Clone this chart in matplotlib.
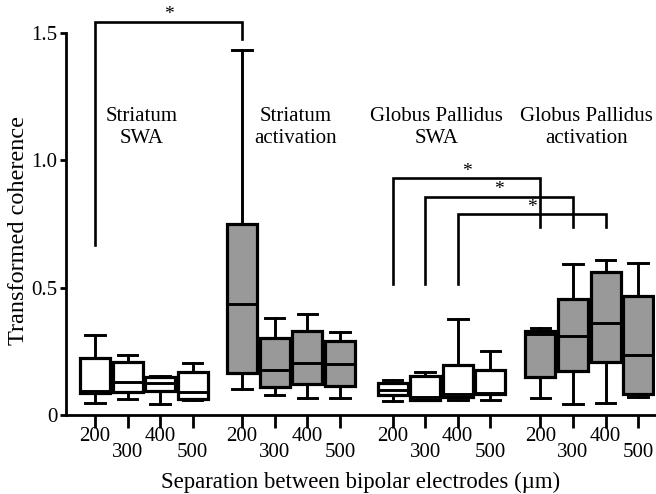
import matplotlib
matplotlib.use("Agg")
import matplotlib.pyplot as plt
import numpy as np

plt.rcParams['font.family'] = ['Liberation Serif', 'DejaVu Serif']

# Data (transformed coherence)
separations = ["200", "300", "400", "500"]
groups = ["Striatum\nSWA", "Striatum\nactivation", "Globus Pallidus\nSWA", "Globus Pallidus\nactivation"]
group_filled = [False, True, False, True]

whislo = [[0.048, 0.063, 0.043, 0.059],
          [0.101, 0.077, 0.068, 0.068],
          [0.056, 0.059, 0.059, 0.059],
          [0.068, 0.043, 0.048, 0.072]]
q1 = [[0.088, 0.092, 0.095, 0.063],
      [0.164, 0.111, 0.120, 0.113],
      [0.079, 0.059, 0.069, 0.082],
      [0.148, 0.174, 0.209, 0.082]]
med = [[0.095, 0.131, 0.127, 0.092],
       [0.436, 0.177, 0.205, 0.201],
       [0.098, 0.069, 0.082, 0.088],
       [0.318, 0.310, 0.362, 0.236]]
q3 = [[0.225, 0.209, 0.148, 0.170],
      [0.749, 0.301, 0.331, 0.292],
      [0.127, 0.153, 0.196, 0.177],
      [0.331, 0.454, 0.563, 0.468]]
whishi = [[0.314, 0.236, 0.153, 0.205],
          [1.433, 0.380, 0.395, 0.325],
          [0.137, 0.168, 0.376, 0.251],
          [0.343, 0.593, 0.609, 0.598]]

# significance brackets: (group_a, sep_a, group_b, sep_b, top, leg_a, leg_b)
brackets = [(0, 0, 1, 0, 1.544, 0.667, 1.475),
            (2, 0, 3, 0, 0.929, 0.513, 0.739),
            (2, 1, 3, 1, 0.857, 0.513, 0.739),
            (2, 2, 3, 2, 0.788, 0.513, 0.739)]

# layout
group_starts = [0.0, 4.52, 9.14, 13.68]
label_offsets = [1.44, 1.65, 1.35, 1.41]

fig = plt.figure(figsize=(6.56, 4.94), dpi=100)
ax = fig.add_axes([0.1006, 0.160, 0.898, 0.773])

stats, positions, faces = [], [], []
for g in range(len(groups)):
    for i in range(len(separations)):
        stats.append(dict(whislo=whislo[g][i], q1=q1[g][i], med=med[g][i],
                          q3=q3[g][i], whishi=whishi[g][i], fliers=[]))
        positions.append(group_starts[g] + i)
        faces.append('#999999' if group_filled[g] else 'white')

bp = ax.bxp(stats, positions=positions, widths=0.92, patch_artist=True,
            showfliers=False,
            boxprops=dict(linewidth=2.3, edgecolor='black'),
            medianprops=dict(color='black', linewidth=2.1),
            whiskerprops=dict(color='black', linewidth=2.1),
            capprops=dict(color='black', linewidth=2.1),
            capwidths=0.6)
for patch, fc in zip(bp['boxes'], faces):
    patch.set_facecolor(fc)

# significance brackets
for ga, sa, gb, sb, top, leg_a, leg_b in brackets:
    xa = group_starts[ga] + sa
    xb = group_starts[gb] + sb
    ax.plot([xa, xa, xb, xb], [leg_a, top, top, leg_b], color='black',
            linewidth=1.9, clip_on=False, solid_joinstyle='miter')
    ax.text((xa + xb) / 2, top + 0.028, '*', ha='center', va='center', fontsize=14)

# group labels
for g, name in enumerate(groups):
    ax.text(group_starts[g] + label_offsets[g], 1.129, name, ha='center', va='center',
            fontsize=15, linespacing=1.2)

ax.set_xlim(-0.89, 17.2)
ax.set_ylim(0, 1.5)

major = [group_starts[g] + i for g in range(4) for i in (0, 2)]
minor = [group_starts[g] + i for g in range(4) for i in (1, 3)]
ax.set_xticks(major)
ax.set_xticklabels([separations[i] for g in range(4) for i in (0, 2)])
ax.set_xticks(minor, minor=True)
ax.set_xticklabels([separations[i] for g in range(4) for i in (1, 3)], minor=True)
ax.tick_params(axis='x', which='both', length=9, width=2, direction='out', labelsize=15)
ax.tick_params(axis='x', which='major', pad=0)
ax.tick_params(axis='x', which='minor', pad=11)

ax.set_yticks([0, 0.5, 1.0, 1.5])
ax.set_yticklabels(['0', '0.5', '1.0', '1.5'])
ax.tick_params(axis='y', length=4, width=2, direction='out', labelsize=15, pad=2)

for side in ('top', 'right'):
    ax.spines[side].set_visible(False)
for side in ('left', 'bottom'):
    ax.spines[side].set_linewidth(2)

ax.set_xlabel('Separation between bipolar electrodes (µm)', fontsize=16.4)
ax.xaxis.set_label_coords(0.5, -0.149)
ax.set_ylabel('Transformed coherence', fontsize=17.5)
ax.yaxis.set_label_coords(-0.063, 0.484)

fig.savefig('out.png', dpi=100)
